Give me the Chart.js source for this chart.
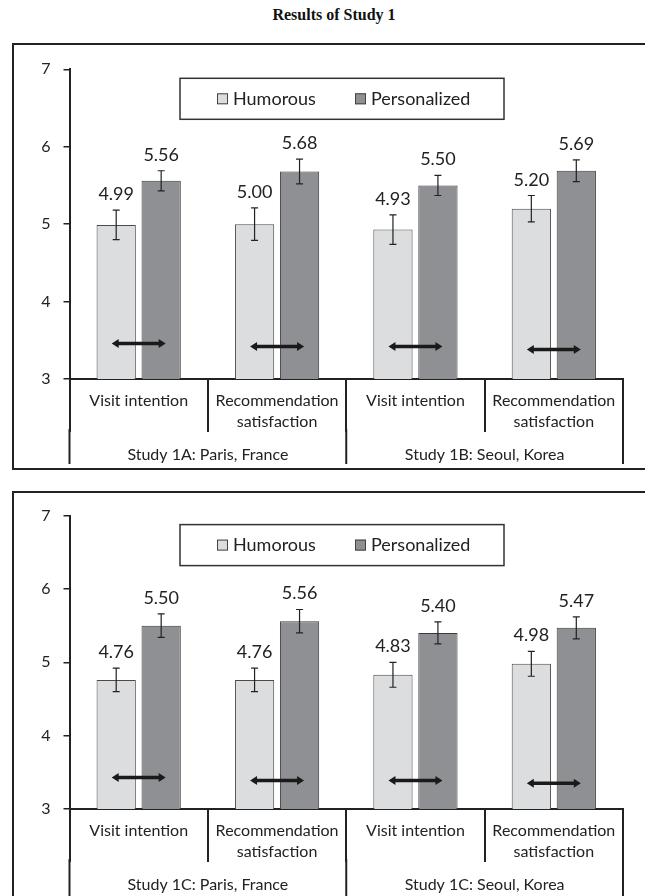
<!DOCTYPE html>
<html lang="en">
<head>
<meta charset="UTF-8">
<title>Results of Study 1</title>
<script src="https://cdn.jsdelivr.net/npm/chart.js"></script>
<style>
    body { margin: 0; width: 645px; height: 896px; overflow: hidden; background: #fff; position: relative; }
    .titulo { position: absolute; left: 0; width: 668px; top: 6px; line-height: 18px; text-align: center;
              font: bold 16px "Liberation Serif", "Times New Roman", serif; color: #111; }
    .painel { position: absolute; left: 12px; width: 646px; border: 2px solid #222; }
    #p1 { top: 43px; height: 423px; }
    #p2 { top: 491px; height: 420px; }
</style>
</head>
<body>
<div class="titulo">Results of Study 1</div>
<div class="painel" id="p1"><canvas id="grafico1"></canvas></div>
<div class="painel" id="p2"><canvas id="grafico2"></canvas></div>

<script>
    // dados
    const categorias = ['Visit intention', ['Recommendation', 'satisfaction'], 'Visit intention', ['Recommendation', 'satisfaction']];
    const series = ['Humorous', 'Personalized'];
    const yTicks = [3, 4, 5, 6, 7];

    // Study 1A / 1B
    const grupos1 = ['Study 1A: Paris, France', 'Study 1B: Seoul, Korea'];
    const humoristico1 = [4.99, 5.00, 4.93, 5.20];
    const personalizado1 = [5.56, 5.68, 5.50, 5.69];
    const erroHum1 = [0.19, 0.21, 0.19, 0.17];
    const erroPers1 = [0.13, 0.16, 0.13, 0.14];
    const setas1 = [3.46, 3.42, 3.42, 3.38];

    // Study 1C
    const grupos2 = ['Study 1C: Paris, France', 'Study 1C: Seoul, Korea'];
    const humoristico2 = [4.76, 4.76, 4.83, 4.98];
    const personalizado2 = [5.50, 5.56, 5.40, 5.47];
    const erroHum2 = [0.16, 0.16, 0.17, 0.17];
    const erroPers2 = [0.16, 0.16, 0.15, 0.15];
    const setas2 = [3.43, 3.39, 3.39, 3.35];

    const corTexto = '#222';

    // barras de erro, rotulos, setas, legenda e grupos do eixo x
    const extras = {
        id: 'extras',
        afterDatasetsDraw(chart, args, opts) {
            const ctx = chart.ctx, x = chart.scales.x, y = chart.scales.y;
            ctx.save();
            chart.data.datasets.forEach((ds, d) => {
                chart.getDatasetMeta(d).data.forEach((bar, i) => {
                    const v = ds.data[i], e = ds.erros[i];
                    const yt = y.getPixelForValue(v + e), yb = y.getPixelForValue(v - e);
                    ctx.strokeStyle = corTexto;
                    ctx.lineWidth = 1.2;
                    ctx.beginPath();
                    ctx.moveTo(bar.x, yt); ctx.lineTo(bar.x, yb);
                    ctx.moveTo(bar.x - 3.5, yt); ctx.lineTo(bar.x + 3.5, yt);
                    ctx.moveTo(bar.x - 3.5, yb); ctx.lineTo(bar.x + 3.5, yb);
                    ctx.stroke();
                    ctx.fillStyle = corTexto;
                    ctx.font = '18px Lato';
                    ctx.textAlign = 'center';
                    ctx.textBaseline = 'alphabetic';
                    ctx.fillText(v.toFixed(2), bar.x, yt - 10);
                });
            });
            // setas duplas
            ctx.fillStyle = '#1a1a1a';
            ctx.strokeStyle = '#1a1a1a';
            opts.setas.forEach((nivel, i) => {
                const cx = x.getPixelForValue(i), cy = y.getPixelForValue(nivel);
                const x1 = cx - 27, x2 = cx + 27;
                ctx.lineWidth = 3.5;
                ctx.beginPath();
                ctx.moveTo(x1 + 4, cy); ctx.lineTo(x2 - 4, cy);
                ctx.stroke();
                ctx.beginPath();
                ctx.moveTo(x1, cy); ctx.lineTo(x1 + 7, cy - 4.5); ctx.lineTo(x1 + 7, cy + 4.5); ctx.closePath();
                ctx.moveTo(x2, cy); ctx.lineTo(x2 - 7, cy - 4.5); ctx.lineTo(x2 - 7, cy + 4.5); ctx.closePath();
                ctx.fill();
            });
            ctx.restore();
        },
        afterDraw(chart, args, opts) {
            const ctx = chart.ctx, x = chart.scales.x, area = chart.chartArea;
            ctx.save();
            // legenda
            const bx = area.left + 110.5, by = area.top + 9;
            ctx.strokeStyle = '#333';
            ctx.lineWidth = 1.5;
            ctx.strokeRect(bx, by, 324, 41);
            const posItens = [37, 175];
            chart.data.datasets.forEach((ds, d) => {
                const sx = bx + posItens[d];
                ctx.fillStyle = ds.backgroundColor;
                ctx.fillRect(sx, by + 15, 11, 11);
                ctx.strokeStyle = '#444';
                ctx.lineWidth = 1;
                ctx.strokeRect(sx + 0.5, by + 15.5, 10, 10);
                ctx.fillStyle = corTexto;
                ctx.font = '18px Lato';
                ctx.textAlign = 'left';
                ctx.textBaseline = 'middle';
                ctx.fillText(ds.label, sx + 16, by + 21);
            });
            // grupos (Study ...)
            const larg = (area.right - area.left) / chart.data.labels.length;
            const porGrupo = chart.data.labels.length / opts.grupos.length;
            ctx.strokeStyle = corTexto;
            ctx.lineWidth = 2;
            for (let g = 0; g <= opts.grupos.length; g++) {
                const px = area.left + g * porGrupo * larg;
                ctx.beginPath();
                ctx.moveTo(px, area.bottom + 50);
                ctx.lineTo(px, area.bottom + opts.sepExtra);
                ctx.stroke();
            }
            ctx.fillStyle = corTexto;
            ctx.font = '16px Lato';
            ctx.textAlign = 'center';
            ctx.textBaseline = 'middle';
            opts.grupos.forEach((txt, g) => {
                const px = area.left + (g + 0.5) * porGrupo * larg;
                ctx.fillText(txt, px, area.bottom + 76);
            });
            ctx.restore();
        }
    };

    function montarPainel(id, hum, pers, eHum, ePers, setas, grupos, topo, alturaEixo, sepExtra) {
        return new Chart(document.getElementById(id), {
            type: 'bar',
            data: {
                labels: categorias,
                datasets: [
                    { label: series[0], data: hum, erros: eHum, backgroundColor: '#dcdddf', borderColor: '#4a4a4a',
                      borderWidth: 1, categoryPercentage: 0.65, barPercentage: 0.873 },
                    { label: series[1], data: pers, erros: ePers, backgroundColor: '#8f9093', borderColor: '#3a3a3a',
                      borderWidth: 1, categoryPercentage: 0.65, barPercentage: 0.873 }
                ]
            },
            options: {
                responsive: true,
                maintainAspectRatio: false,
                animation: false,
                layout: { padding: { top: topo, right: 37, left: 0, bottom: 0 } },
                plugins: {
                    legend: { display: false },
                    tooltip: { enabled: false },
                    extras: { setas: setas, grupos: grupos, sepExtra: sepExtra }
                },
                scales: {
                    x: {
                        grid: { offset: true, drawOnChartArea: false, drawTicks: true, tickLength: 53, color: corTexto, lineWidth: 2 },
                        border: { color: corTexto, width: 2 },
                        ticks: { autoSkip: false, maxRotation: 0, padding: -41, color: corTexto,
                                 font: { family: 'Lato', size: 16, lineHeight: 1.29 } },
                        afterFit: s => { s.height = alturaEixo; }
                    },
                    y: {
                        min: 3, max: 7,
                        afterBuildTicks: s => { s.ticks = yTicks.map(v => ({ value: v })); },
                        ticks: { padding: 13, color: corTexto, font: { family: 'Lato', size: 16 } },
                        grid: { drawOnChartArea: false, drawTicks: true, tickLength: 6, color: corTexto, lineWidth: 1.5 },
                        border: { color: corTexto, width: 2 },
                        afterFit: s => { s.width = 55.5; }
                    }
                }
            },
            plugins: [extras]
        });
    }

    montarPainel('grafico1', humoristico1, personalizado1, erroHum1, erroPers1, setas1, grupos1, 24.3, 89, 85);
    montarPainel('grafico2', humoristico2, personalizado2, erroHum2, erroPers2, setas2, grupos2, 22, 104, 110);
</script>
</body>
</html>
